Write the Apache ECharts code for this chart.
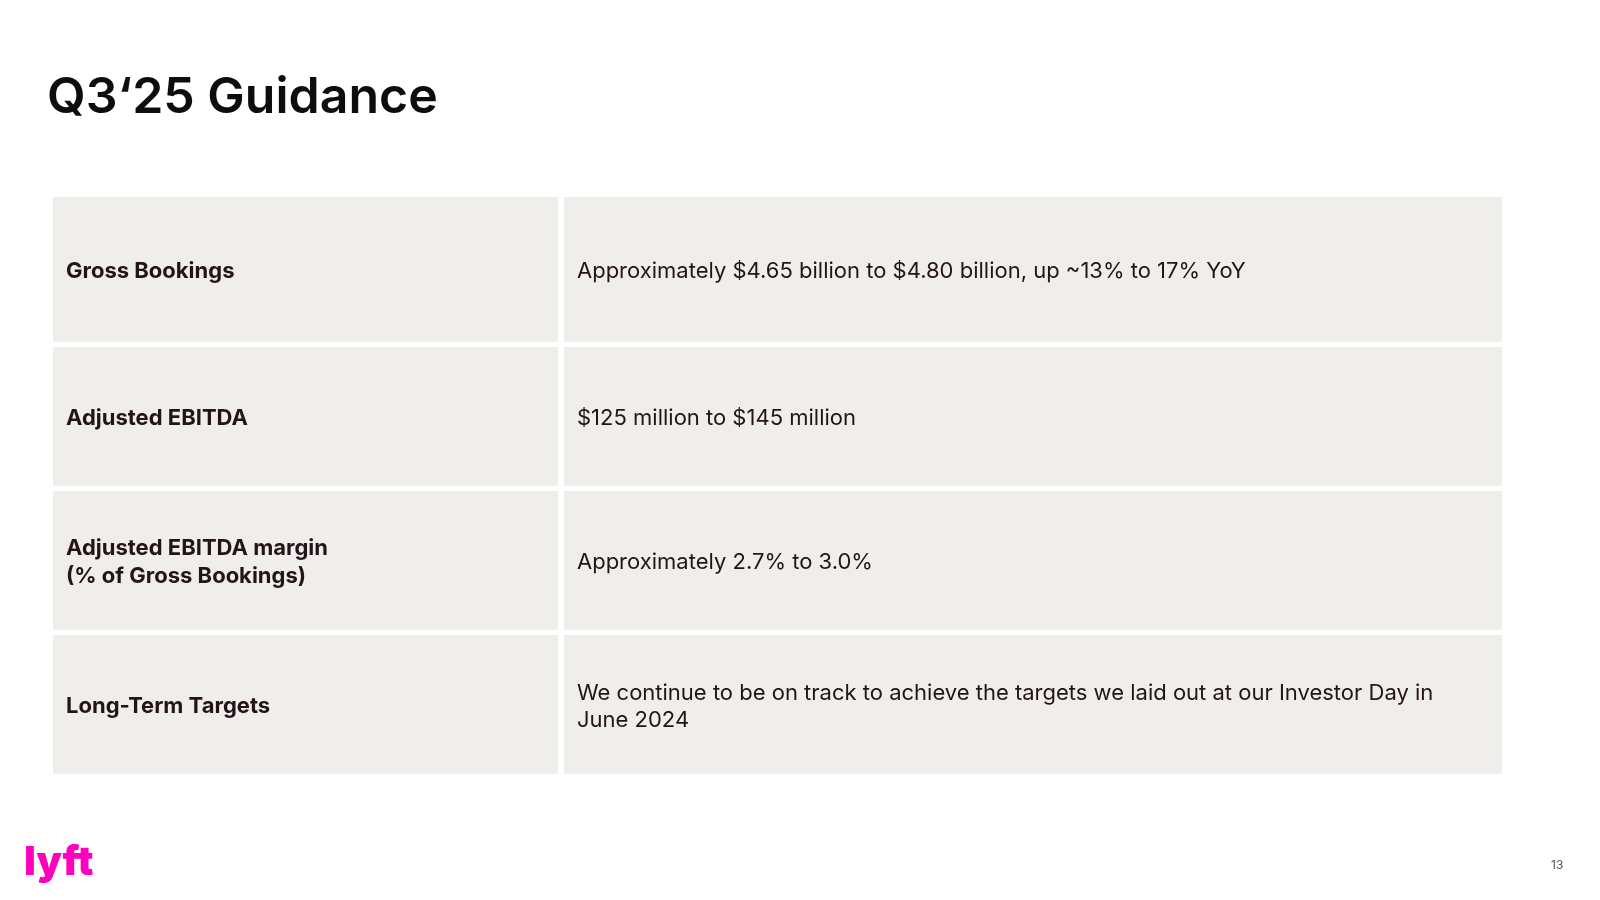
<!DOCTYPE html>
<html><head><meta charset="utf-8">
<script src="https://cdn.jsdelivr.net/npm/echarts@6/dist/echarts.min.js"></script>
<style>html,body{margin:0;padding:0;background:#fff}#c{width:1600px;height:900px}</style>
</head><body><div id="c"></div>
<script>
const labels = ['Gross Bookings', 'Adjusted EBITDA', 'Adjusted EBITDA margin\n(% of Gross Bookings)', 'Long-Term Targets'];
const values = [
  'Approximately $4.65 billion to $4.80 billion, up ~13% to 17% YoY',
  '$125 million to $145 million',
  'Approximately 2.7% to 3.0%',
  'We continue to be on track to achieve the targets we laid out at our Investor Day in\nJune 2024'
];
const rowTops = [197, 347, 491, 635];
const rowHeights = [145, 139, 139, 139];

const chart = echarts.init(document.getElementById('c'));
const g = [];
labels.forEach((lab, i) => {
  const y = rowTops[i], h = rowHeights[i];
  g.push({ type: 'rect', shape: { x: 53, y: y, width: 505, height: h }, style: { fill: '#f0eeeb' } });
  g.push({ type: 'rect', shape: { x: 564, y: y, width: 938, height: h }, style: { fill: '#f0eeeb' } });
  g.push({ type: 'text', x: 66, y: y + h / 2 + 2, style: { text: lab, fill: '#23141a', font: 'bold 22px Inter', verticalAlign: 'middle', lineHeight: 28 } });
  g.push({ type: 'text', x: 577, y: y + h / 2 + 2, style: { text: values[i], fill: '#23141a', font: '22px Inter', verticalAlign: 'middle', lineHeight: 27 } });
});
g.push({ type: 'text', x: 47, y: 73, style: { text: 'Q3‘25 Guidance', fill: '#0d0d0d', font: '600 50px Inter' } });
g.push({ type: 'text', x: 24, y: 843, style: { text: 'lyft', fill: '#ff00bf', font: '900 40px Inter' } });
g.push({ type: 'text', x: 1551, y: 859, style: { text: '13', fill: '#555', font: '12px Inter' } });
chart.setOption({ animation: false, graphic: g });
</script></body></html>
